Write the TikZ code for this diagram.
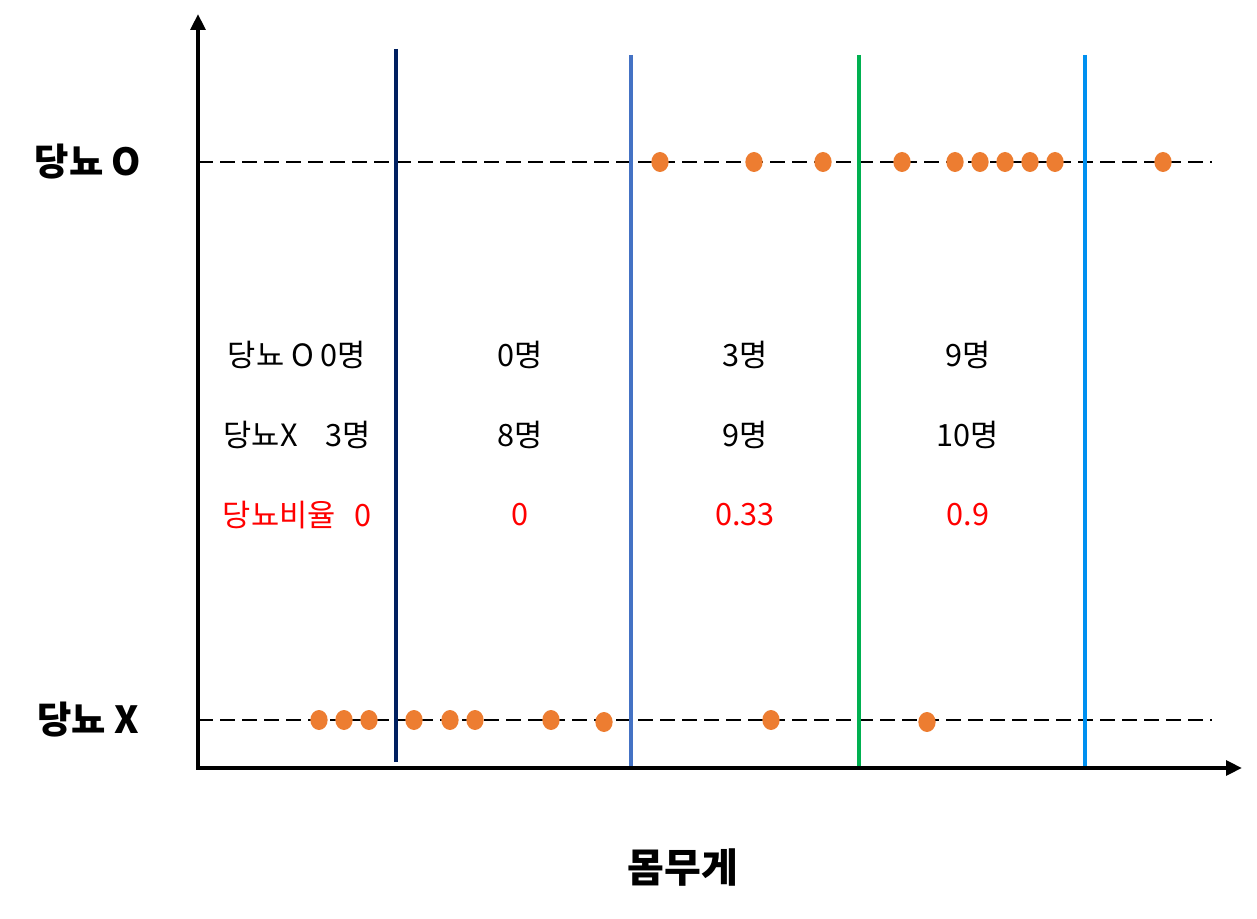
\documentclass[tikz,border=0pt]{standalone}
\usepackage{fontspec}
\setmainfont{Noto Sans CJK KR}
\usetikzlibrary{shapes.geometric,arrows.meta}
\definecolor{navyc}{HTML}{002060}
\definecolor{bluec}{HTML}{4472C4}
\definecolor{greenc}{HTML}{00B050}
\definecolor{skyc}{HTML}{0090F0}
\definecolor{dotc}{HTML}{ED7D31}
\definecolor{redc}{HTML}{FF0000}
\begin{document}
\begin{tikzpicture}[x=0.75pt,y=-0.75pt,
  axisline/.style={line width=3pt,-{Triangle[length=12pt,width=11pt]}},
  guide/.style={line width=1.5pt,dash pattern=on 11pt off 5.5pt},
  splitline/.style={line width=3pt},
  dot/.style={ellipse,fill=dotc,inner sep=0pt,minimum width=13pt,minimum height=15pt},
  rowlabel/.style={font=\fontsize{28}{32}\selectfont\bfseries,anchor=center},
  axislabel/.style={font=\fontsize{30}{34}\selectfont\bfseries,anchor=center},
  cell/.style={font=\fontsize{23}{27}\selectfont,anchor=center},
  redcell/.style={cell,text=redc}]
\useasboundingbox (0,0) rectangle (1257,919);
% coordinates
\coordinate (o) at (198,768);
\coordinate (ytop) at (198,14);
\coordinate (xend) at (1242,768);
\coordinate (gOa) at (198,162); \coordinate (gOb) at (1212,162);
\coordinate (gXa) at (198,720); \coordinate (gXb) at (1212,720);
% dashed guides
\draw[guide] (gOa) -- (gOb);
\draw[guide] (gXa) -- (gXb);
% split lines
\coordinate (s1a) at (396,49); \coordinate (s1b) at (396,762);
\coordinate (s2a) at (631,55); \coordinate (s2b) at (631,769);
\coordinate (s3a) at (859,55); \coordinate (s3b) at (859,769);
\coordinate (s4a) at (1085,55); \coordinate (s4b) at (1085,769);
\draw[splitline,navyc] (s1a) -- (s1b);
\draw[splitline,bluec] (s2a) -- (s2b);
\draw[splitline,greenc] (s3a) -- (s3b);
\draw[splitline,skyc] (s4a) -- (s4b);
% axes
\draw[axisline] (o) -- (ytop);
\draw[axisline] ([xshift=-1.5pt]o) -- (xend);
% dots top
\foreach \x [count=\i] in {660,754,823,902,955,980,1005,1030,1055,1163}
  \node[dot] (t\i) at (\x,162) {};
% dots bottom
\foreach \x/\y [count=\i] in {319/720,344/720,369/720,414/720,450/720,475/720,551/720,604/722,771/720,927/722}
  \node[dot] (b\i) at (\x,\y) {};
% labels
\node[rowlabel] (lO) at (88,162) {당뇨 O};
\node[rowlabel] (lX) at (88,720) {당뇨 X};
\node[axislabel] (lW) at (683,868) {몸무게};
% table
\node[cell] (c11) at (297,355) {당뇨 O 0명};
\node[cell] (c12) at (297,435) {당뇨X\hspace{0.9em}3명};
\node[redcell] (c13) at (297,515) {당뇨비율\hspace{0.6em}0};
\node[cell] (c21) at (520,355) {0명};
\node[cell] (c22) at (520,435) {8명};
\node[redcell] (c23) at (520,515) {0};
\node[cell] (c31) at (745,355) {3명};
\node[cell] (c32) at (745,435) {9명};
\node[redcell] (c33) at (745,515) {0.33};
\node[cell] (c41) at (968,355) {9명};
\node[cell] (c42) at (968,435) {10명};
\node[redcell] (c43) at (968,515) {0.9};
\end{tikzpicture}
\end{document}
